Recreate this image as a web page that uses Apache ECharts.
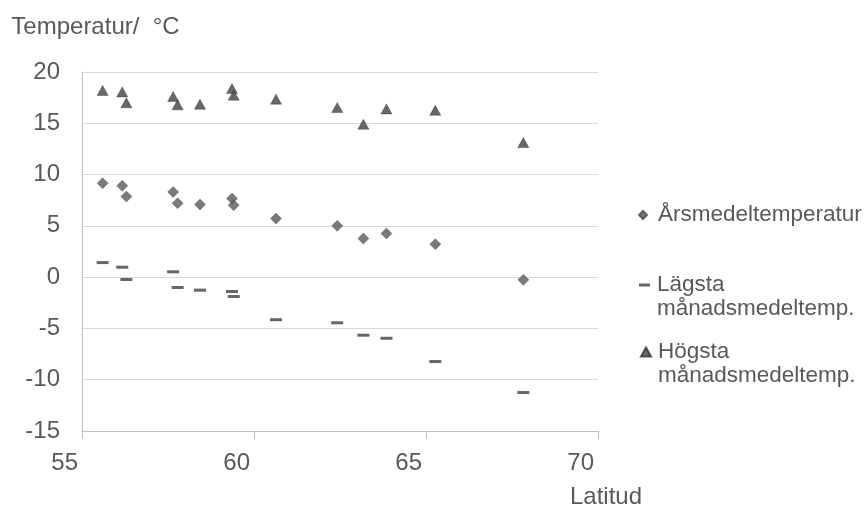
<!DOCTYPE html>
<html>
<head>
<meta charset="utf-8">
<script src="https://cdn.jsdelivr.net/npm/echarts@6/dist/echarts.min.js"></script>
<style>
html,body{margin:0;padding:0;background:#fff;}
#chart{width:867px;height:509px;}
</style>
</head>
<body>
<div id="chart"></div>
<script>
// Station latitudes (x) and temperatures (y)
const latitudes = [55.6, 56.17, 56.29, 57.65, 57.78, 58.43, 59.36, 59.41, 60.64, 62.42, 63.18, 63.85, 65.27, 67.83];
const annualMean = [9.16, 8.9, 7.86, 8.31, 7.21, 7.08, 7.66, 7.02, 5.71, 5.0, 3.76, 4.25, 3.21, -0.26];
const lowestMonthMean = [1.42, 0.97, -0.23, 0.52, -1.01, -1.27, -1.4, -1.89, -4.15, -4.45, -5.66, -5.96, -8.23, -11.25];
const highestMonthMean = [18.2, 18.06, 17.0, 17.6, 16.8, 16.86, 18.38, 17.74, 17.35, 16.53, 14.91, 16.4, 16.27, 13.12];
const seriesNames = ['Årsmedeltemperatur', 'Lägsta\nmånadsmedeltemp.', 'Högsta\nmånadsmedeltemp.'];
const xTicks = [55, 60, 65, 70];
const yTicks = [-15, -10, -5, 0, 5, 10, 15, 20];
const xTitle = 'Latitud';
const yTitle = 'Temperatur/  °C';

const pairs = (xs, ys) => xs.map((x, i) => [x, ys[i]]);
const FONT = 'Liberation Sans, Arial, sans-serif';
const TXT = '#595959';

const chart = echarts.init(document.getElementById('chart'), null, {renderer: 'canvas'});
const legendText = (padLeft) => ({fontFamily: FONT, fontSize: 22.5, color: TXT, lineHeight: 24, padding: [0, 0, 0, padLeft]});
const legendBase = {orient: 'vertical', itemGap: 0, padding: 0, selectedMode: false};
chart.setOption({
  animation: false,
  backgroundColor: '#ffffff',
  grid: {left: 82, right: 269, top: 72, bottom: 78, containLabel: false},
  xAxis: {
    type: 'value',
    min: xTicks[0], max: xTicks[xTicks.length - 1], interval: 5,
    name: xTitle, nameLocation: 'end', nameGap: 8,
    nameTextStyle: {fontFamily: FONT, fontSize: 24, color: TXT, align: 'center', verticalAlign: 'top', padding: [54, 0, 0, 0]},
    axisLine: {show: true, onZero: false, lineStyle: {color: '#bfbfbf', width: 1}},
    axisTick: {show: true, length: 8, lineStyle: {color: '#bfbfbf'}},
    axisLabel: {fontFamily: FONT, fontSize: 24, color: TXT, margin: 20, align: 'right', padding: [0, 4, 0, 0]},
    splitLine: {show: false}
  },
  yAxis: {
    type: 'value',
    min: yTicks[0], max: yTicks[yTicks.length - 1], interval: 5,
    name: yTitle, nameLocation: 'end', nameGap: 33,
    nameTextStyle: {fontFamily: FONT, fontSize: 24, color: TXT, align: 'center', padding: [0, 0, 0, 27]},
    axisLine: {show: true, onZero: false, lineStyle: {color: '#bfbfbf', width: 1}},
    axisTick: {show: false},
    axisLabel: {fontFamily: FONT, fontSize: 24, color: TXT, margin: 22},
    splitLine: {show: true, lineStyle: {color: '#d9d9d9', width: 1}}
  },
  legend: [
    Object.assign({}, legendBase, {data: [seriesNames[0]], left: 638, top: 203, itemWidth: 8, itemHeight: 8,
      textStyle: legendText(6)}),
    Object.assign({}, legendBase, {data: [seriesNames[1]], left: 639, top: 249, itemWidth: 11, itemHeight: 3,
      textStyle: legendText(2), formatter: (n) => '\n' + n}),
    Object.assign({}, legendBase, {data: [seriesNames[2]], left: 640, top: 316, itemWidth: 10, itemHeight: 9,
      textStyle: legendText(2), formatter: (n) => '\n' + n})
  ],
  series: [
    {
      name: seriesNames[0], type: 'scatter', symbol: 'diamond', symbolSize: [11, 11],
      itemStyle: {color: '#595959', borderColor: '#4a4a4a', borderWidth: 0.5},
      data: pairs(latitudes, annualMean)
    },
    {
      name: seriesNames[1], type: 'scatter', symbol: 'rect', symbolSize: [12, 3],
      itemStyle: {color: '#404040'},
      data: pairs(latitudes, lowestMonthMean)
    },
    {
      name: seriesNames[2], type: 'scatter', symbol: 'triangle', symbolSize: [11, 10],
      itemStyle: {color: '#424242', borderColor: '#333333', borderWidth: 0.5},
      data: pairs(latitudes, highestMonthMean)
    }
  ]
});
</script>
</body>
</html>
